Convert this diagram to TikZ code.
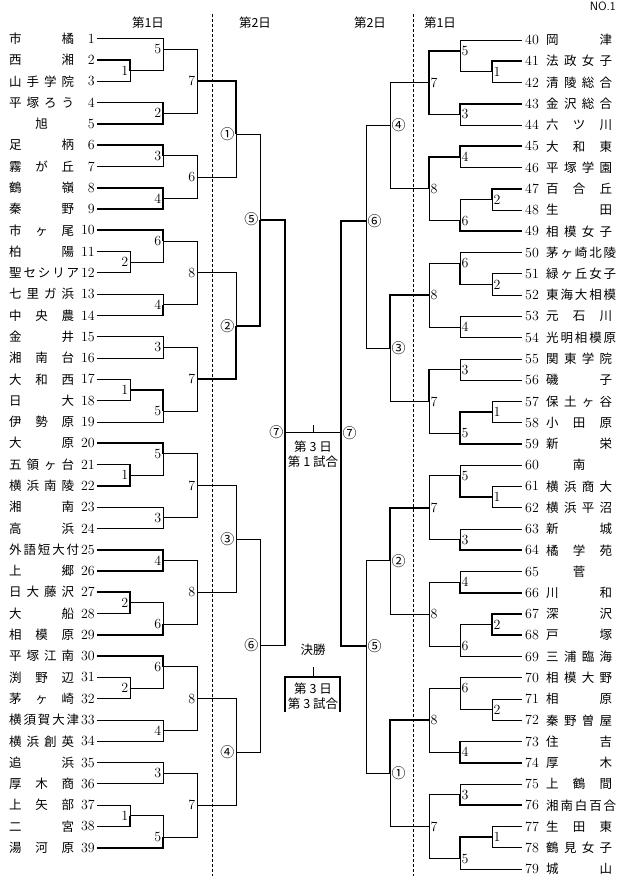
\documentclass[tikz,border=0pt]{standalone}
\usepackage{fontspec}
\newfontfamily\cjk{Noto Sans CJK JP}

\begin{document}
\begin{tikzpicture}[x=1pt,y=-1pt,
  lo/.style={line width=0.8pt},
  hi/.style={line width=1.8pt},
  day/.style={line width=0.8pt,dash pattern=on 3pt off 2pt},
  school/.style={inner sep=0pt,font=\cjk\fontsize{12.5}{14}\selectfont},
  seed/.style={inner sep=1pt,font=\fontsize{14}{15}\selectfont},
  res/.style={inner sep=1.5pt,font=\fontsize{14}{15}\selectfont},
  head/.style={inner sep=1pt,align=center,font=\cjk\fontsize{12.5}{15}\selectfont}]
\useasboundingbox (0,0) rectangle (621,885);

% headers and day separators
\node[head] (h1) at (148,23) {第1日};
\node[head] (h2) at (255,23) {第2日};
\node[head] (h3) at (370,23) {第2日};
\node[head] (h4) at (440,23) {第1日};
\node[anchor=north east,inner sep=0pt,font=\sffamily\fontsize{12}{13}\selectfont] (no) at (616,2) {NO.1};
\draw[day] (212,14) -- (212,876);
\draw[day] (413,14) -- (413,876);

% left teams
\foreach \i/\t in {1/市 橘,2/西 湘,3/山 手 学 院,4/平 塚 ろ う,5/\hfil 旭\hfil,6/足 柄,7/霧 が 丘,8/鶴 嶺,9/秦 野,10/市 ヶ 尾,11/柏 陽,12/聖 セ シ リ ア,13/七 里 ガ 浜,14/中 央 農,15/金 井,16/湘 南 台,17/大 和 西,18/日 大,19/伊 勢 原,20/大 原,21/五 領 ヶ 台,22/横 浜 南 陵,23/湘 南,24/高 浜,25/外 語 短 大 付,26/上 郷,27/日 大 藤 沢,28/大 船,29/相 模 原,30/平 塚 江 南,31/渕 野 辺,32/茅 ヶ 崎,33/横 須 賀 大 津,34/横 浜 創 英,35/追 浜,36/厚 木 商,37/上 矢 部,38/二 宮,39/湯 河 原}{
  \coordinate (L\i) at (97,{17.4+21.29*\i});
  \node[seed,anchor=east] (nl\i) at (96,{17.4+21.29*\i}) {\i};
  \node[school,anchor=west] (sl\i) at (9,{17.4+21.29*\i}) {\makebox[65pt][s]{\t}};
}

% right teams
\foreach \i/\t in {40/岡 津,41/法 政 女 子,42/清 陵 総 合,43/金 沢 総 合,44/六 ツ 川,45/大 和 東,46/平 塚 学 園,47/百 合 丘,48/生 田,49/相 模 女 子,50/茅 ヶ 崎 北 陵,51/緑 ヶ 丘 女 子,52/東 海 大 相 模,53/元 石 川,54/光 明 相 模 原,55/関 東 学 院,56/磯 子,57/保 土 ヶ 谷,58/小 田 原,59/新 栄,60/\hfil 南\hfil,61/横 浜 商 大,62/横 浜 平 沼,63/新 城,64/橘 学 苑,65/\hfil 菅\hfil,66/川 和,67/深 沢,68/戸 塚,69/三 浦 臨 海,70/相 模 大 野,71/相 原,72/秦 野 曽 屋,73/住 吉,74/厚 木,75/上 鶴 間,76/湘 南 白 百 合,77/生 田 東,78/鶴 見 女 子,79/城 山}{
  \coordinate (R\i) at (522,{40+21.26*(\i-40)});
  \node[seed,anchor=west] (nr\i) at (524,{40+21.26*(\i-40)}) {\i};
  \node[school,anchor=west] (sr\i) at (546,{40+21.26*(\i-40)}) {\makebox[66pt][s]{\t}};
}

% left bracket: name/x/slot/top/bottom/label/top line/bottom line
\foreach \n/\x/\s/\a/\b/\l/\p/\q in {
  p1/130/2.5/L2/L3/1/hi/lo,p2/163/1.5/L1/p1/5/lo/lo,p3/163/4.5/L4/L5/2/hi/hi,p4/197/3/p2/p3/7/lo/lo,
  p5/163/6.5/L6/L7/3/hi/lo,p6/163/8.5/L8/L9/4/hi/hi,p7/197/7.5/p5/p6/6/lo/lo,
  q1/236/5.5/p4/p7/\cjk ①/hi/lo,
  p8/130/11.5/L11/L12/2/lo/lo,p9/163/10.5/L10/p8/6/hi/lo,p10/163/13.5/L13/L14/4/lo/hi,p11/197/12/p9/p10/8/lo/lo,
  p12/163/15.5/L15/L16/3/lo/lo,p13/130/17.5/L17/L18/1/lo/lo,p14/163/18.5/p13/L19/5/hi/lo,p15/197/17/p12/p14/7/lo/lo,
  q2/236/14.5/p11/p15/\cjk ②/lo/hi,
  s1/260/9.5/q1/q2/\cjk ⑤/lo/hi,
  p16/130/21.5/L21/L22/1/hi/hi,p17/163/20.5/L20/p16/5/hi/lo,p18/163/23.5/L23/L24/3/lo/lo,p19/197/22/p17/p18/7/lo/lo,
  p20/163/25.5/L25/L26/4/hi/hi,p21/130/27.5/L27/L28/2/hi/hi,p22/163/28.5/p21/L29/6/lo/hi,p23/197/27/p20/p22/8/lo/lo,
  q3/236/24.5/p19/p23/\cjk ③/lo/lo,
  p24/130/31.5/L31/L32/2/lo/lo,p25/163/30.5/L30/p24/6/hi/lo,p26/163/33.5/L33/L34/4/lo/lo,p27/197/32/p25/p26/8/lo/lo,
  p28/163/35.5/L35/L36/3/lo/lo,p29/130/37.5/L37/L38/1/lo/hi,p30/163/38.5/p29/L39/5/lo/hi,p31/197/37/p28/p30/7/lo/lo,
  q4/236/34.5/p27/p31/\cjk ④/lo/lo,
  s2/260/29.5/q3/q4/\cjk ⑥/lo/lo,
  f1/285/19.5/s1/s2/\cjk ⑦/hi/hi}{
  \coordinate (\n) at (\x,{17.4+21.29*\s});
  \draw[\p] (\a) -| (\n);
  \draw[\q] (\b) -| (\n);
  \node[res,anchor=east] (k\n) at (\n) {\l};
}

% right bracket
\foreach \n/\x/\s/\a/\b/\l/\p/\q in {
  r1/492/41.5/R41/R42/1/hi/lo,r2/460/40.5/R40/r1/5/lo/lo,r3/460/43.5/R43/R44/3/hi/lo,r4/429/42/r2/r3/7/hi/hi,
  r5/460/45.5/R45/R46/4/hi/lo,r6/492/47.5/R47/R48/2/hi/lo,r7/460/48.5/r6/R49/6/lo/hi,r8/429/47/r5/r7/8/hi/lo,
  u1/390/44/r4/r8/\cjk ④/lo/lo,
  r9/492/51.5/R51/R52/2/lo/lo,r10/460/50.5/R50/r9/6/lo/hi,r11/460/53.5/R53/R54/4/lo/lo,r12/429/52/r10/r11/8/lo/lo,
  r13/460/55.5/R55/R56/3/lo/lo,r14/492/57.5/R57/R58/1/lo/lo,r15/460/58.5/r14/R59/5/hi/hi,r16/429/57/r13/r15/7/hi/lo,
  u2/390/54.5/r12/r16/\cjk ③/hi/lo,
  v1/366/48.5/u1/u2/\cjk ⑥/lo/lo,
  r17/492/61.5/R61/R62/1/lo/lo,r18/460/60.5/R60/r17/5/lo/hi,r19/460/63.5/R63/R64/3/lo/hi,r20/429/62/r18/r19/7/lo/lo,
  r21/460/65.5/R65/R66/4/lo/hi,r22/492/67.5/R67/R68/2/hi/hi,r23/460/68.5/r22/R69/6/lo/lo,r24/429/67/r21/r23/8/lo/lo,
  u3/390/64.5/r20/r24/\cjk ②/hi/lo,
  r25/492/71.5/R71/R72/2/lo/lo,r26/460/70.5/R70/r25/6/lo/lo,r27/460/73.5/R73/R74/4/hi/hi,r28/429/72/r26/r27/8/lo/lo,
  r29/460/75.5/R75/R76/3/lo/hi,r30/492/77.5/R77/R78/1/lo/lo,r31/460/78.5/r30/R79/5/hi/lo,r32/429/77/r29/r31/7/lo/lo,
  u4/390/74.5/r28/r32/\cjk ①/hi/lo,
  v2/366/68.5/u3/u4/\cjk ⑤/lo/lo,
  f2/341/58.5/v1/v2/\cjk ⑦/hi/hi}{
  \coordinate (\n) at (\x,{40+21.26*(\s-40)});
  \draw[\p] (\a) -| (\n);
  \draw[\q] (\b) -| (\n);
  \node[res,anchor=west] (k\n) at (\n) {\l};
}

% day 3
\draw[hi] (f1) -- (f1 -| f2);
\coordinate (tk) at (313,432);
\draw[lo] (tk) -- ++(0,-7);
\node[head] (g1) at (313,454) {第 3 日\\第 1 試合};
\node[head] (fin) at (313,650) {決勝};
\draw[line width=1.2pt] (285,712) |- (340,677) -- (340,712);
\draw[lo] (313,677) -- (313,667);
\node[head] (g3) at (313,696) {第 3 日\\第 3 試合};
\end{tikzpicture}
\end{document}
